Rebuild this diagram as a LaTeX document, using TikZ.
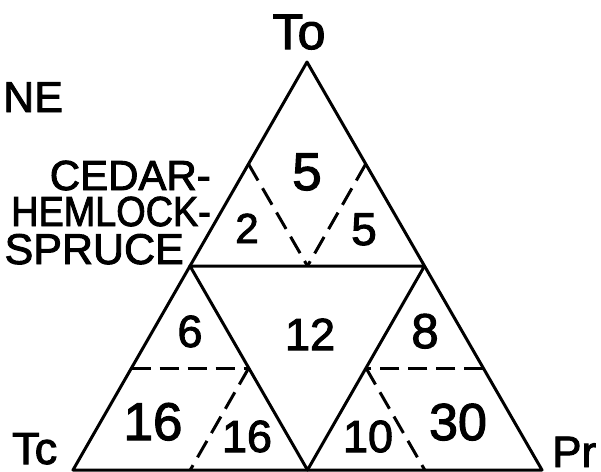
\documentclass[tikz,border=0pt]{standalone}
\usepackage{fontspec}
\setmainfont{Liberation Sans}[FakeBold=2.2,AutoFakeBold=2.2]
\usetikzlibrary{calc}
\tikzset{
  edge/.style={line width=3pt, line join=round, line cap=round},
  dashedge/.style={line width=3pt, dash pattern=on 19pt off 9pt, line cap=butt},
  lbl/.style={font=\fontsize{#1}{#1}\selectfont\bfseries, inner sep=0pt, anchor=base, text depth=0pt},
}
\begin{document}
\begin{tikzpicture}[x=1pt,y=-1pt]
\useasboundingbox (0,0) rectangle (601,471);
% corners
\coordinate (A) at (307,62);
\coordinate (L) at (73,470);
\coordinate (R) at (542,470);
\coordinate (ML) at ($(A)!0.5!(L)$);
\coordinate (MR) at ($(A)!0.5!(R)$);
\coordinate (MB) at ($(L)!0.5!(R)$);
% sub midpoints
\coordinate (TL) at ($(A)!0.5!(ML)$);
\coordinate (TR) at ($(A)!0.5!(MR)$);
\coordinate (LL) at ($(ML)!0.5!(L)$);
\coordinate (LR) at ($(ML)!0.5!(MB)$);
\coordinate (LB) at ($(L)!0.5!(MB)$);
\coordinate (RL) at ($(MR)!0.5!(MB)$);
\coordinate (RR) at ($(MR)!0.5!(R)$);
\coordinate (RB) at ($(MB)!0.5!(R)$);
% solid lines
\draw[edge] (A) -- (L) -- (R) -- cycle;
\draw[edge] (ML) -- (MR) -- (MB) -- cycle;
% dashed lines
\draw[dashedge] (TL) -- (ML-|MB);
\draw[dashedge] (TR) -- (ML-|MB);
\draw[dashedge] (LL) -- (LR);
\draw[dashedge] (LR) -- (LB);
\draw[dashedge] (RR) -- (RL);
\draw[dashedge] (RL) -- (RB);
% labels
\node[lbl=50] (to) at (299,49) {To};
\node[lbl=43, anchor=base west] (ne) at (3,112) {NE};
\node[lbl=42, anchor=base east, text height=30pt] (cedar) at (211,190) {CEDAR-};
\node[lbl=42, anchor=base east, xscale=0.9, text height=30pt] (hemlock) at (211,226) {HEMLOCK-};
\node[lbl=43, anchor=base east, text height=31pt] (spruce) at (184,264) {SPRUCE};
\node[lbl=45, anchor=base west] (tc) at (12,464) {Tc};
\node[lbl=44, anchor=base west] (pr) at (552,467) {Pr};
% numbers
\node[lbl=53] (n5a) at (307,190) {5};
\node[lbl=42] (n2) at (247,243) {2};
\node[lbl=46] (n5b) at (364,245) {5};
\node[lbl=45] (n6) at (190,347) {6};
\node[lbl=45] (n12) at (310,350) {12};
\node[lbl=49] (n8) at (425,348) {8};
\node[lbl=53] (n16a) at (153,440) {16};
\node[lbl=45] (n16b) at (247,452) {16};
\node[lbl=45] (n10) at (368,452) {10};
\node[lbl=52] (n30) at (458,440) {30};
\end{tikzpicture}
\end{document}
